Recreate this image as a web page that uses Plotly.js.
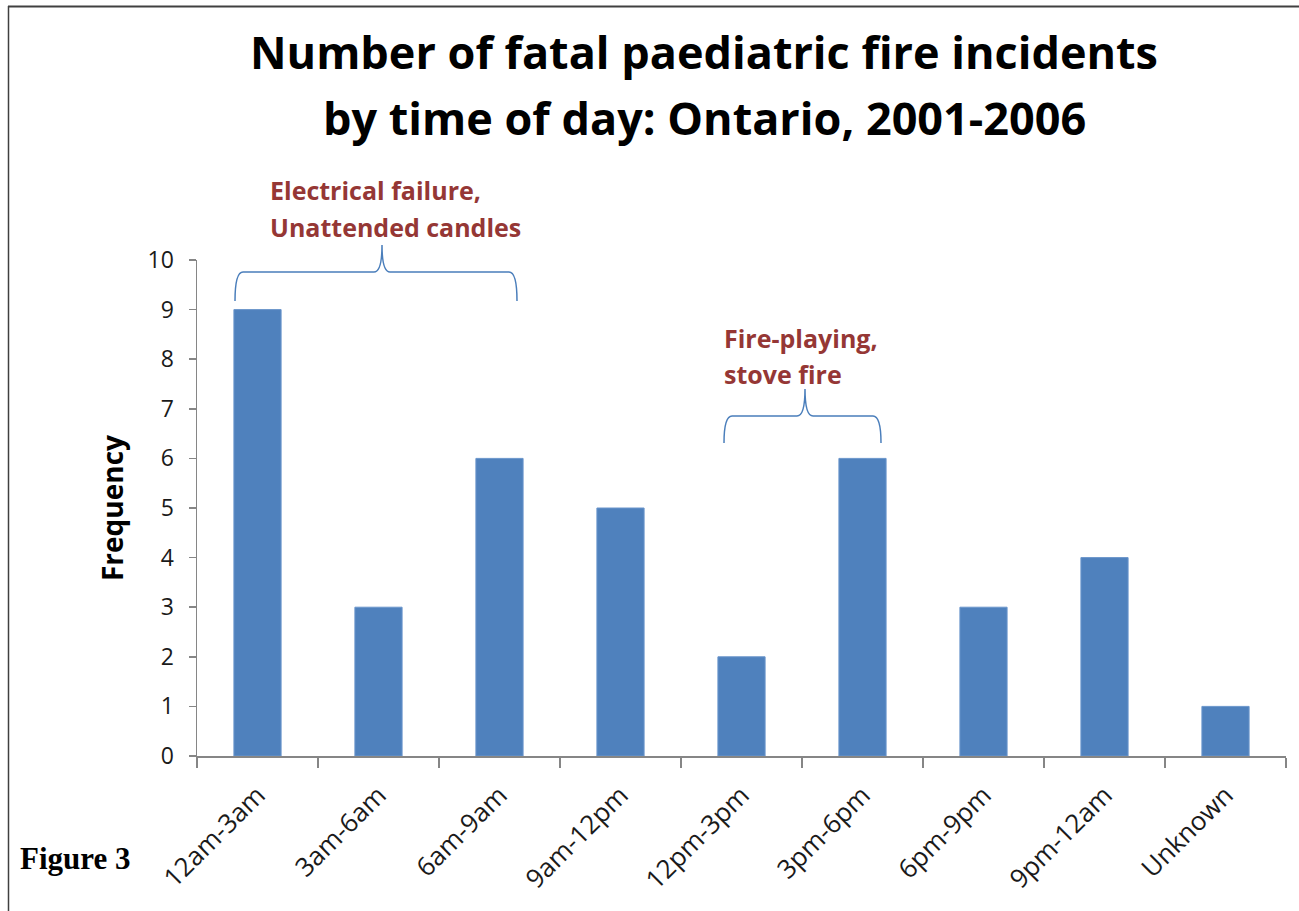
<!DOCTYPE html>
<html>
<head>
<meta charset="utf-8">
<script src="https://cdn.plot.ly/plotly-3.0.1.min.js"></script>
<style>html,body{margin:0;padding:0;background:#fff;}#chart{width:1299px;height:911px;}</style>
</head>
<body>
<div id="chart"></div>
<script>
// Data
const categories = ["12am-3am", "3am-6am", "6am-9am", "9am-12pm", "12pm-3pm", "3pm-6pm", "6pm-9pm", "9pm-12am", "Unknown"];
const frequency = [9, 3, 6, 5, 2, 6, 3, 4, 1];
const yTicks = [0, 1, 2, 3, 4, 5, 6, 7, 8, 9, 10];
const titleLine1 = "Number of fatal paediatric fire incidents";
const titleLine2 = "by time of day: Ontario, 2001-2006";
const note1 = ["Electrical failure,", "Unattended candles"];
const note2 = ["Fire-playing,", "stove fire"];

// Layout geometry (pixels)
const W = 1299, H = 911;
const L = 197, R = 1286, T = 260, B = 756;
const px = x => (x - L) / (R - L);
const py = y => (B - y) / (B - T);

function brace(x0, x1, xm, yb, yh, yp) {
  const r = 8;
  return `M ${px(x0)},${py(yb)} Q ${px(x0)},${py(yh)} ${px(x0 + r)},${py(yh)} ` +
    `L ${px(xm - r)},${py(yh)} Q ${px(xm)},${py(yh)} ${px(xm)},${py(yp)} ` +
    `Q ${px(xm)},${py(yh)} ${px(xm + r)},${py(yh)} ` +
    `L ${px(x1 - r)},${py(yh)} Q ${px(x1)},${py(yh)} ${px(x1)},${py(yb)}`;
}

const noteFont = {family: "Open Sans, sans-serif", size: 25, color: "#953735", weight: 700};
const titleFont = {family: "Open Sans, sans-serif", size: 45, color: "#000000", weight: 700};

const data = [{
  type: "bar",
  x: categories,
  y: frequency,
  marker: {color: "#4f81bd", line: {color: "#6a95cb", width: 1}},
  hoverinfo: "x+y"
}];

const layout = {
  width: W, height: H,
  margin: {l: L, r: W - R, t: T, b: H - B, pad: 0},
  paper_bgcolor: "#ffffff",
  plot_bgcolor: "#ffffff",
  showlegend: false,
  bargap: 0.61,
  title: {
    text: "<b>" + titleLine1 + "</b>",
    font: titleFont,
    x: 704 / W, xanchor: "center",
    y: 1 - 53 / H, yanchor: "middle"
  },
  xaxis: {
    type: "category",
    showline: true, linecolor: "#868686", linewidth: 1.5,
    ticks: "outside", tickson: "boundaries", ticklen: 10, tickcolor: "#868686", tickwidth: 1.5,
    tickangle: -45,
    ticklabelstandoff: 12,
    tickfont: {family: "Open Sans, sans-serif", size: 26, color: "#1a1a1a"},
    showgrid: false, zeroline: false, fixedrange: true
  },
  yaxis: {
    range: [0, 10],
    tickvals: yTicks,
    showline: true, linecolor: "#868686", linewidth: 1.5,
    ticks: "outside", ticklen: 7, tickcolor: "#868686", tickwidth: 1.5,
    ticklabelstandoff: 10,
    tickfont: {family: "Open Sans, sans-serif", size: 23, color: "#1a1a1a"},
    showgrid: false, zeroline: false, fixedrange: true,
    title: {text: "<b>Frequency</b>", font: {family: "Open Sans, sans-serif", size: 28, color: "#000"}, standoff: 16}
  },
  annotations: [
    {xref: "paper", yref: "paper", x: px(704), y: py(118), xanchor: "center", yanchor: "middle",
     text: "<b>" + titleLine2 + "</b>", showarrow: false, font: titleFont},
    {xref: "paper", yref: "paper", x: px(268), y: py(190), xanchor: "left", yanchor: "middle",
     text: "<b>" + note1[0] + "</b>", showarrow: false, font: noteFont},
    {xref: "paper", yref: "paper", x: px(268), y: py(227), xanchor: "left", yanchor: "middle",
     text: "<b>" + note1[1] + "</b>", showarrow: false, font: noteFont},
    {xref: "paper", yref: "paper", x: px(722), y: py(338), xanchor: "left", yanchor: "middle",
     text: "<b>" + note2[0] + "</b>", showarrow: false, font: noteFont},
    {xref: "paper", yref: "paper", x: px(722), y: py(374), xanchor: "left", yanchor: "middle",
     text: "<b>" + note2[1] + "</b>", showarrow: false, font: noteFont},
    {xref: "paper", yref: "paper", x: px(18), y: py(858), xanchor: "left", yanchor: "middle",
     text: "<b>Figure 3</b>", showarrow: false,
     font: {family: "Liberation Serif, Times New Roman, serif", size: 31, color: "#000"}}
  ],
  shapes: [
    {type: "path", xref: "paper", yref: "paper", path: brace(235, 517, 382, 301, 272, 245),
     line: {color: "#4a7ebb", width: 1.5}},
    {type: "path", xref: "paper", yref: "paper", path: brace(724, 881, 805, 443, 416, 389),
     line: {color: "#4a7ebb", width: 1.5}},
    {type: "line", xref: "paper", yref: "paper", x0: px(8), x1: px(1299), y0: py(6.5), y1: py(6.5),
     line: {color: "#404040", width: 2}},
    {type: "line", xref: "paper", yref: "paper", x0: px(8.5), x1: px(8.5), y0: py(6), y1: py(911),
     line: {color: "#404040", width: 1.5}}
  ]
};

Plotly.newPlot("chart", data, layout, {displayModeBar: false, staticPlot: true});
</script>
</body>
</html>
